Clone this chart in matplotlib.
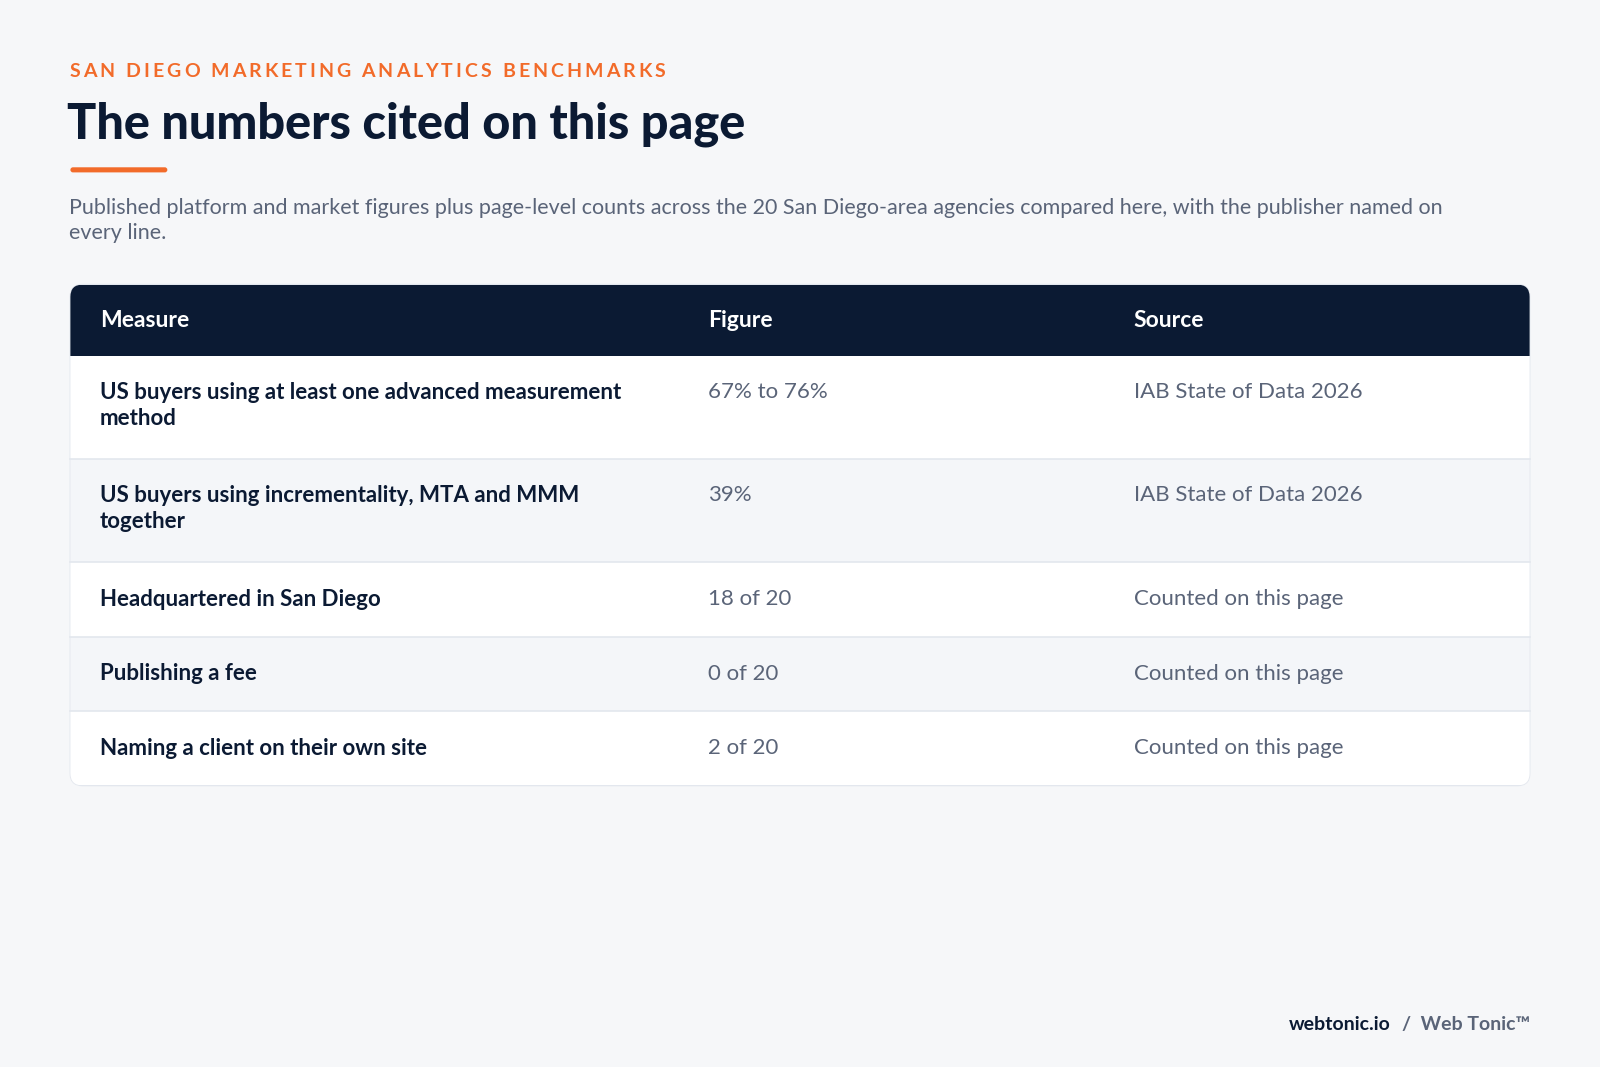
import matplotlib.pyplot as plt
from matplotlib.patches import FancyBboxPatch, Rectangle

plt.rcParams['font.family'] = ['Lato', 'DejaVu Sans']

kicker = "SAN DIEGO MARKETING ANALYTICS BENCHMARKS"
title = "The numbers cited on this page"
subtitle = ("Published platform and market figures plus page-level counts across the 20 San Diego-area agencies compared here, with the publisher named on\n"
            "every line.")
headers = ["Measure", "Figure", "Source"]
measures = ["US buyers using at least one advanced measurement\nmethod",
            "US buyers using incrementality, MTA and MMM\ntogether",
            "Headquartered in San Diego",
            "Publishing a fee",
            "Naming a client on their own site"]
figures = ["67% to 76%", "39%", "18 of 20", "0 of 20", "2 of 20"]
sources = ["IAB State of Data 2026", "IAB State of Data 2026",
           "Counted on this page", "Counted on this page", "Counted on this page"]

BG = "#F6F7F9"
NAVY = "#0B1A33"
ORANGE = "#F26B2A"
GREY = "#5A6478"

fig = plt.figure(figsize=(16, 10.67), dpi=100, facecolor=BG)
ax = fig.add_axes([0, 0, 1, 1])
ax.set_xlim(0, 1568)
ax.set_ylim(1046, 0)
ax.axis("off")

# letter-spaced kicker: place each char by measured prefix widths
renderer = fig.canvas.get_renderer()
kx0, kx1 = 68, 652
probe = ax.text(0, 0, kicker, fontsize=14, fontweight="bold")
fp = probe.get_fontproperties()
probe.remove()
px_per_unit = fig.bbox.width / 1568
widths = [renderer.get_text_width_height_descent(kicker[:i], fp, ismath=False)[0] / px_per_unit
          for i in range(len(kicker) + 1)]
spacing = (kx1 - kx0 - widths[-1]) / (len(kicker) - 1)
for i, ch in enumerate(kicker):
    ax.text(kx0 + widths[i] + i * spacing, 70, ch, color=ORANGE, fontsize=14,
            fontweight="bold", va="center")

ax.text(66, 122, title, color=NAVY, fontsize=35, fontweight="black", va="center")
ax.add_patch(FancyBboxPatch((69, 164), 95, 5, boxstyle="round,pad=0,rounding_size=2.5",
                            fc=ORANGE, ec="none"))
ax.text(68, 194, subtitle, color=GREY, fontsize=15.5, va="top", linespacing=1.3)

x0, x1 = 69, 1499
top, head_h = 279, 70
row_h = [101, 101, 73, 73, 73]
bottom = top + head_h + sum(row_h)
frame = FancyBboxPatch((x0, top), x1 - x0, bottom - top,
                       boxstyle="round,pad=0,rounding_size=12",
                       fc="white", ec="#E3E7EE", lw=1.2, zorder=1)
ax.add_patch(frame)

cols = [98, 694, 1111]
hdr = Rectangle((x0, top), x1 - x0, head_h, fc=NAVY, ec="none", zorder=2)
ax.add_patch(hdr)
hdr.set_clip_path(frame)
for cx, h in zip(cols, headers):
    ax.text(cx, top + head_h / 2, h, color="white", fontsize=16.5,
            fontweight="bold", va="center", zorder=3)

y = top + head_h
for i, (m, f, s) in enumerate(zip(measures, figures, sources)):
    rh = row_h[i]
    r = Rectangle((x0, y), x1 - x0, rh, fc="white" if i % 2 == 0 else "#F4F6F9",
                  ec="none", zorder=2)
    ax.add_patch(r)
    r.set_clip_path(frame)
    if i > 0:
        ax.plot([x0, x1], [y, y], color="#E3E7EE", lw=1.2, zorder=3)
    if rh > 80:
        ty, va = y + 25, "top"
    else:
        ty, va = y + rh / 2, "center"
    ax.text(cols[0], ty, m, color=NAVY, fontsize=16, fontweight="bold",
            va=va, linespacing=1.35, zorder=4)
    ax.text(cols[1], ty, f, color=GREY, fontsize=16, va=va, zorder=4)
    ax.text(cols[2], ty, s, color=GREY, fontsize=16, va=va, zorder=4)
    y += rh

ax.text(1363, 1004, "webtonic.io", color=NAVY, fontsize=14, fontweight="bold",
        ha="right", va="center")
ax.text(1500, 1004, "/  Web Tonic\u2122", color=GREY, fontsize=14, fontweight="bold",
        ha="right", va="center")

fig.savefig("out.png", dpi=100, facecolor=BG)
